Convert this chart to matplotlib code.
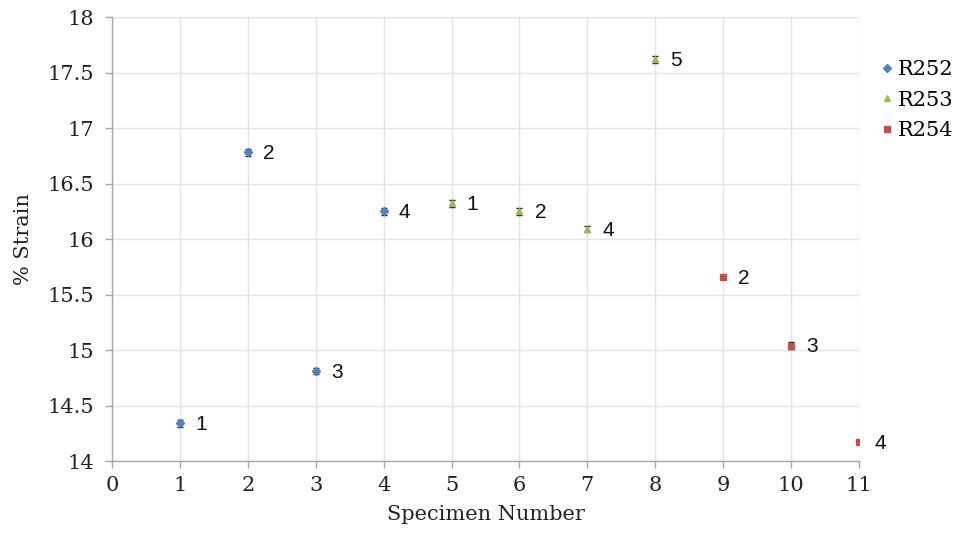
import matplotlib
matplotlib.use("Agg")
import matplotlib.pyplot as plt

specimen = [1, 2, 3, 4, 5, 6, 7, 8, 9, 10, 11]
strain = [14.34, 16.78, 14.81, 16.25, 16.32, 16.25, 16.09, 17.62, 15.66, 15.04, 14.17]
err = [0.03, 0.03, 0.03, 0.03, 0.03, 0.03, 0.03, 0.03, 0.02, 0.03, 0.02]
point_labels = ["1", "2", "3", "4", "1", "2", "4", "5", "2", "3", "4"]
series_names = ["R252", "R253", "R254"]
series_slices = [(0, 4), (4, 8), (8, 11)]
series_colors = ["#4F81BD", "#9BBB59", "#C0504D"]
series_markers = ["D", "^", "s"]
x_ticks = list(range(0, 12))
y_ticks = [14, 14.5, 15, 15.5, 16, 16.5, 17, 17.5, 18]

fig = plt.figure(figsize=(9.59, 5.37), dpi=100)
ax = fig.add_axes([0.1168, 0.1415, 0.7789, 0.8268])

for name, (a, b), c, m in zip(series_names, series_slices, series_colors, series_markers):
    xs = specimen[a:b]
    ys = strain[a:b]
    es = err[a:b]
    ax.errorbar(xs, ys, yerr=es, fmt="none", ecolor="#222222", elinewidth=1.0,
                capsize=2.5, capthick=1.0, zorder=3)
    ax.plot(xs, ys, linestyle="none", marker=m, color=c,
            markersize=4.5 if m != "D" else 4, label=name, zorder=4)
    for x, y, t in zip(xs, ys, point_labels[a:b]):
        ax.annotate(t, (x, y), xytext=(11, -1), textcoords="offset points",
                    ha="left", va="center", fontsize=15,
                    family="Liberation Sans", color="#111111")

ax.set_xlim(0, 11)
ax.set_ylim(14, 18)
ax.set_xticks(x_ticks)
ax.set_yticks(y_ticks)
ax.set_yticklabels([f"{v:g}" for v in y_ticks])
ax.grid(True, color="#e3e3e3", linewidth=1.0, zorder=0)
ax.set_axisbelow(True)
for s in ["top", "right"]:
    ax.spines[s].set_visible(False)
for s in ["left", "bottom"]:
    ax.spines[s].set_color("#a6a6a6")
    ax.spines[s].set_linewidth(1.0)
ax.tick_params(axis="both", colors="#a6a6a6", length=5, width=1.0,
               labelcolor="#222222", labelsize=15)
ax.tick_params(axis="x", pad=6)
ax.tick_params(axis="y", pad=8)
for lab in ax.get_xticklabels() + ax.get_yticklabels():
    lab.set_family("DejaVu Serif")

ax.set_xlabel("Specimen Number", family="DejaVu Serif", fontsize=15, color="#222222", labelpad=7)
ax.set_ylabel("% Strain", family="DejaVu Serif", fontsize=15, color="#222222", labelpad=10)

leg = ax.legend(loc="upper left", bbox_to_anchor=(0.998, 0.945), frameon=False,
                prop={"family": "DejaVu Serif", "size": 15}, handletextpad=0.05,
                handlelength=1.0, labelspacing=0.55, markerscale=0.9)

fig.savefig("out.png", dpi=100)
